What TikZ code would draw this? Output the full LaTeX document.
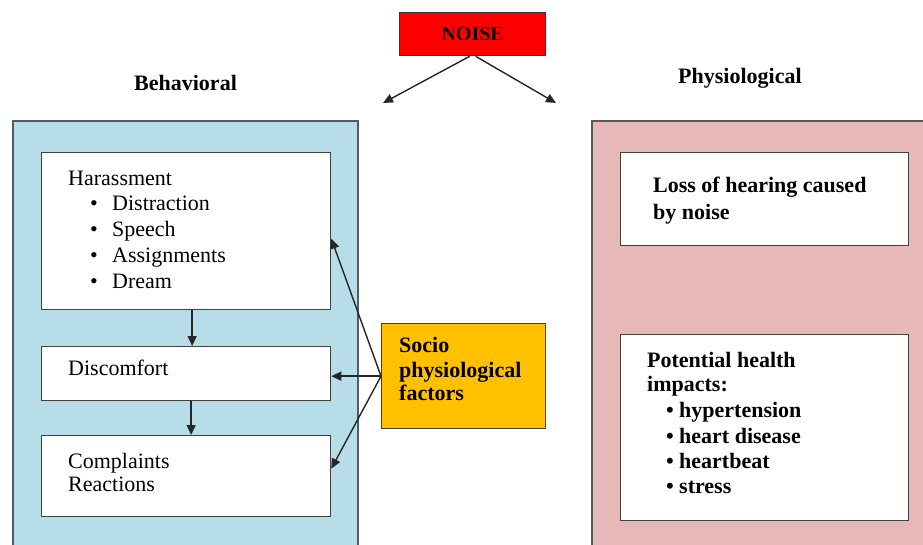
\documentclass[tikz,border=0pt]{standalone}
\usepackage{fontspec}
\setmainfont{Liberation Serif}
\usetikzlibrary{arrows.meta}
\definecolor{panelblue}{HTML}{B7DEE8}
\definecolor{panelpink}{HTML}{E6B9B8}
\definecolor{socioorange}{HTML}{FFC000}
\definecolor{noisered}{HTML}{FF0000}
\begin{document}
\begin{tikzpicture}[x=1pt,y=-1pt,
 box/.style={draw=black!75,line width=1.3pt,fill=white,inner sep=0pt,anchor=north west},
 panel/.style={draw=black!65,line width=1.6pt,inner sep=0pt,anchor=north west},
 txt/.style={anchor=base west,inner sep=0pt,font=\fontsize{22}{26}\selectfont},
 btxt/.style={anchor=base west,inner sep=0pt,font=\fontsize{22}{26}\selectfont\bfseries},
 arr/.style={line width=1.4pt,draw=black!85,-{Triangle[length=10pt,width=9pt]}}
]
\useasboundingbox (0,0) rectangle (923,544);
\clip (0,0) rectangle (923,544);

% panels
\node[panel,fill=panelblue,minimum width=345pt,minimum height=440pt] (left) at (12,120) {};
\node[panel,fill=panelpink,minimum width=360pt,minimum height=440pt] (right) at (591,120) {};

% headings
\node[btxt] (behav) at (134,90) {Behavioral};
\node[btxt] (physio) at (678,83) {Physiological};

% NOISE
\node[box,fill=noisered,draw=black!80,minimum width=146pt,minimum height=43pt,font=\fontsize{20}{22}\selectfont\bfseries] (noise) at (399,12) {NOISE};
\coordinate (noiseL) at (383,103);
\coordinate (noiseR) at (556,103);
\draw[arr] ([xshift=-3pt]noise.south) -- (noiseL);
\draw[arr] ([xshift=3pt]noise.south) -- (noiseR);

% left boxes
\node[box,minimum width=289pt,minimum height=157pt] (harass) at (41,152) {};
\node[box,minimum width=289pt,minimum height=54pt] (disc) at (41,346) {};
\node[box,minimum width=289pt,minimum height=81pt] (compl) at (41,435) {};

\node[txt] (t1) at (68,185) {Harassment};
\node[txt] (b1) at (90,210) {\textbullet};
\node[txt] (t2) at (112,210) {Distraction};
\node[txt] (b2) at (90,236) {\textbullet};
\node[txt] (t3) at (112,236) {Speech};
\node[txt] (b3) at (90,262) {\textbullet};
\node[txt] (t4) at (112,262) {Assignments};
\node[txt] (b4) at (90,288) {\textbullet};
\node[txt] (t5) at (112,288) {Dream};
\node[txt] (t6) at (68,375) {Discomfort};
\node[txt] (t7) at (68,468) {Complaints};
\node[txt] (t8) at (68,491) {Reactions};

\draw[arr] ([xshift=6pt]harass.south) -- ([xshift=6pt]disc.north);
\draw[arr] ([xshift=5pt]disc.south) -- ([xshift=5pt]compl.north);

% socio
\node[box,fill=socioorange,minimum width=164pt,minimum height=105pt] (socio) at (381,323) {};
\node[btxt] (s1) at (399,352) {Socio};
\node[btxt] (s2) at (399,377) {physiological};
\node[btxt] (s3) at (399,400) {factors};
\draw[arr] (socio.west) -- ([yshift=-7.5pt]harass.east);
\draw[arr] (socio.west) -- (disc.east |- socio.west);
\draw[arr] (socio.west) -- ([yshift=7.5pt]compl.east);

% right boxes
\node[box,minimum width=288pt,minimum height=93pt] (loss) at (620,152) {};
\node[btxt] (r1) at (653,192) {Loss of hearing caused};
\node[btxt] (r2) at (653,219) {by noise};

\node[box,minimum width=288pt,minimum height=186pt] (pot) at (620,334) {};
\node[btxt] (p1) at (647,367) {Potential health};
\node[btxt] (p2) at (647,391) {impacts:};
\node[btxt] (pb1) at (666,417) {\textbullet};
\node[btxt] (p3) at (679,417) {hypertension};
\node[btxt] (pb2) at (666,443) {\textbullet};
\node[btxt] (p4) at (679,443) {heart disease};
\node[btxt] (pb3) at (666,468) {\textbullet};
\node[btxt] (p5) at (679,468) {heartbeat};
\node[btxt] (pb4) at (666,493) {\textbullet};
\node[btxt] (p6) at (679,493) {stress};
\end{tikzpicture}
\end{document}
